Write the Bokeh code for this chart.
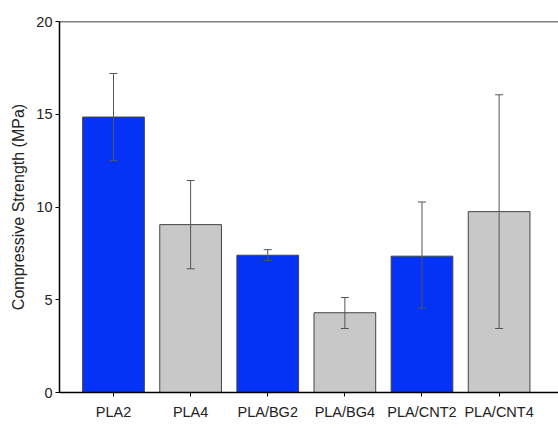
from bokeh.plotting import figure
from bokeh.models import Range1d, FixedTicker, Whisker, ColumnDataSource, Span, TeeHead
from bokeh.embed import file_html
from bokeh.resources import INLINE

categories = ["PLA2", "PLA4", "PLA/BG2", "PLA/BG4", "PLA/CNT2", "PLA/CNT4"]
strength = [14.85, 9.05, 7.4, 4.3, 7.35, 9.75]
err_upper = [17.2, 11.43, 7.7, 5.12, 10.27, 16.05]
err_lower = [12.5, 6.67, 7.12, 3.45, 4.55, 3.45]
colors = ["#0533F5", "#C8C8C8", "#0533F5", "#C8C8C8", "#0533F5", "#C8C8C8"]

x = list(range(len(categories)))
src = ColumnDataSource(dict(x=x, top=strength, upper=err_upper, lower=err_lower, color=colors))

p = figure(width=558, height=428, output_backend="svg", toolbar_location=None,
           x_range=Range1d(-0.70, 5.77), y_range=Range1d(0, 20),
           min_border_left=59, min_border_right=0, min_border_top=21, min_border_bottom=36)

p.vbar(x="x", top="top", bottom=0, width=0.8, source=src, fill_color="color",
       line_color="#444444", line_width=1)

w = Whisker(base="x", upper="upper", lower="lower", source=src, line_color="#555555",
            line_width=1, level="overlay")
w.upper_head = TeeHead(size=8, line_color="#555555", line_width=1)
w.lower_head = TeeHead(size=8, line_color="#555555", line_width=1)
p.add_layout(w)

p.add_layout(Span(location=20, dimension="width", line_color="black", line_width=1.5))

p.outline_line_color = None
p.grid.grid_line_color = None
p.background_fill_color = "white"

p.xaxis.ticker = FixedTicker(ticks=x)
p.xaxis.major_label_overrides = {i: c for i, c in enumerate(categories)}
p.yaxis.ticker = FixedTicker(ticks=[0, 5, 10, 15, 20])
p.yaxis.axis_label = "Compressive Strength (MPa)"

for ax in (p.xaxis[0], p.yaxis[0]):
    ax.axis_line_color = "black"
    ax.axis_line_width = 1.5
    ax.major_tick_line_color = "black"
    ax.major_tick_in = 0
    ax.major_tick_out = 4
    ax.minor_tick_line_color = None
    ax.major_label_text_font = "Liberation Sans"
    ax.major_label_text_font_size = "14.5px"
    ax.major_label_text_color = "#222222"

p.xaxis.major_label_standoff = 7
p.yaxis.major_label_standoff = 3
p.yaxis.axis_label_text_font = "Liberation Sans"
p.yaxis.axis_label_text_font_size = "16px"
p.yaxis.axis_label_text_font_style = "normal"
p.yaxis.axis_label_text_color = "#222222"
p.yaxis.axis_label_standoff = 6

open("out.html", "w").write(file_html(p, INLINE))
